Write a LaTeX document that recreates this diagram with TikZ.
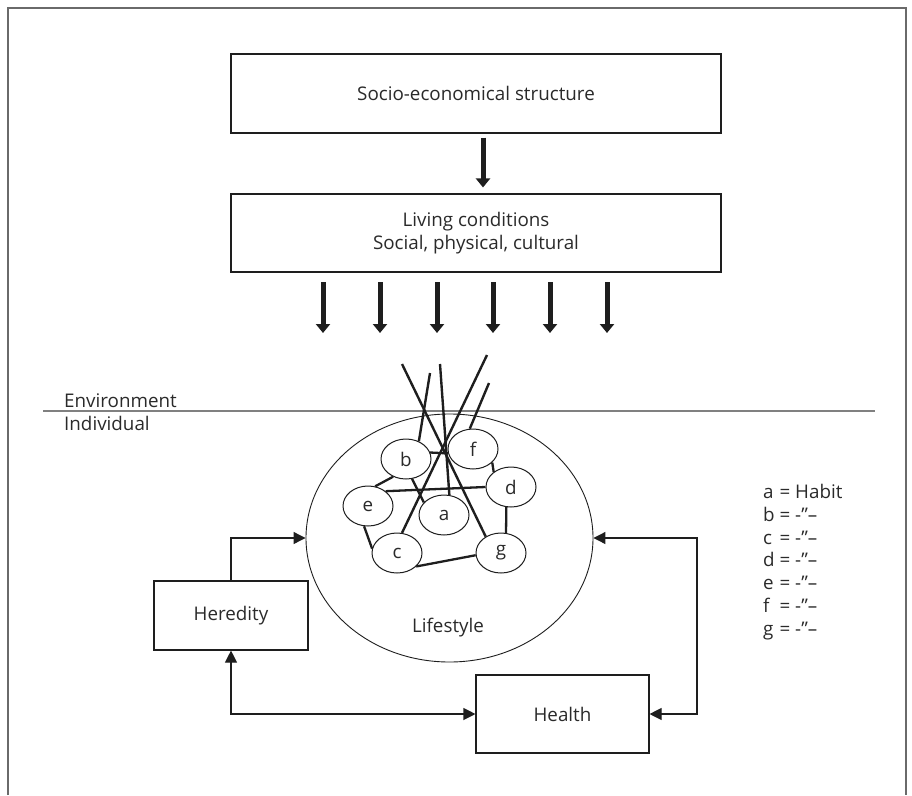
\documentclass[tikz,border=0pt]{standalone}
\usepackage{fontspec}
\setmainfont{Open Sans}
\usetikzlibrary{arrows.meta,shapes.geometric,calc}
\definecolor{txt}{HTML}{2A2A2A}
\definecolor{ln}{HTML}{1E1E1E}
\definecolor{framec}{HTML}{6A6A6A}
\definecolor{sepc}{HTML}{808080}
\begin{document}
\begin{tikzpicture}[x=1pt,y=-1pt,
  font=\fontsize{18.8}{22.8}\selectfont,
  every node/.style={text=txt},
  box/.style={draw=ln, line width=1.1pt, rectangle, inner sep=0pt, align=center},
  small/.style={draw=ln, line width=1pt, ellipse, fill=white, minimum width=50pt, minimum height=40pt, inner sep=0pt},
  link/.style={draw=ln, line width=2.3pt},
  longlink/.style={draw=ln, line width=2.4pt},
  bigarrow/.style={draw=ln, line width=5pt, -{Triangle[width=14pt,length=9pt]}},
  conn/.style={draw=ln, line width=1.1pt},
  tip/.style={-{Triangle[width=12pt,length=12pt]}},
  tips/.style={{Triangle[width=12pt,length=12pt]}-{Triangle[width=12pt,length=12pt]}},
  plain/.style={inner sep=0pt}
]
\useasboundingbox (0,0) rectangle (912,795);
\draw[framec, line width=1.2pt] (8,795) -- (8,8) -- (906,8) -- (906,795);

% top boxes
\node[box, minimum width=490pt, minimum height=79pt] (s1) at (476,93.5) {Socio-economical structure};
\node[box, minimum width=490pt, minimum height=78pt] (s2) at (476,233) {Living conditions\\Social, physical, cultural};
\draw[bigarrow] ($(s1.south)+(7,4)$) -- ($(s2.north)+(7,-6)$);

\foreach \x in {323,380,437,493,550,607}
  \draw[bigarrow] (\x,282) -- (\x,333);

% separator
\draw[sepc, line width=2pt] (43,411) -- (875,411);
\node[plain, anchor=west] (env) at (64,401) {Environment};
\node[plain, anchor=west] (ind) at (64,423) {Individual};

% lifestyle ellipse
\node[draw=ln, line width=0.9pt, ellipse, minimum width=287pt, minimum height=248pt, inner sep=0pt] (life) at (449.5,538) {};
\node[plain] (lifetext) at (448,628) {Lifestyle};

% small ellipses
\node[small] (a) at (444,515) {a};
\node[small] (b) at (406,459) {b};
\node[small] (c) at (397,553) {c};
\node[small] (d) at (511,487) {d};
\node[small] (e) at (368,506) {e};
\node[small] (f) at (473,449) {f};
\node[small] (g) at (501,553) {g};

% links between habits
\draw[link] (b.15) -- (f.190);
\draw[link] (f.-35) -- (d.139);
\draw[link] (e.40) -- (d.180);
\draw[link] (e.70) -- (b.234);
\draw[link] (b.-73) -- (a.148);
\draw[link] (e.-101) -- (c.170);
\draw[link] (c.-35) -- (g.185);
\draw[link] (d.-103) -- (g.76);

% long lines from environment
\coordinate (t1) at (402,364);
\coordinate (t2) at (430,373);
\coordinate (t3) at (440,364);
\coordinate (t4) at (487,355);
\coordinate (t5) at (489,383);
\draw[longlink] (t1) -- (g.133);
\draw[longlink] (t2) -- (b.54);
\draw[longlink] (t3) -- (a.75);
\draw[longlink] (t4) -- (c.76);
\draw[longlink] (t5) -- (f.99);

% heredity and health
\node[box, minimum width=154pt, minimum height=69pt] (her) at (231,615.5) {Heredity};
\node[box, minimum width=173pt, minimum height=78pt] (health) at (562.5,714) {Health};
\coordinate (rc) at (697,538);

\draw[conn, tip] (her.north) |- (life.west);
\draw[conn, tips] (her.south) |- (health.west);
\draw[conn, tips] (life.east) -- (rc) |- (health.east);

% legend
\node[plain, anchor=base west] (legend) at (763,498.5) {%
\begin{tabular}[t]{@{}l@{\ =\ }l@{}}
a & Habit\\
b & -”–\\
c & -”–\\
d & -”–\\
e & -”–\\
f & -”–\\
g & -”–
\end{tabular}};
\end{tikzpicture}
\end{document}
